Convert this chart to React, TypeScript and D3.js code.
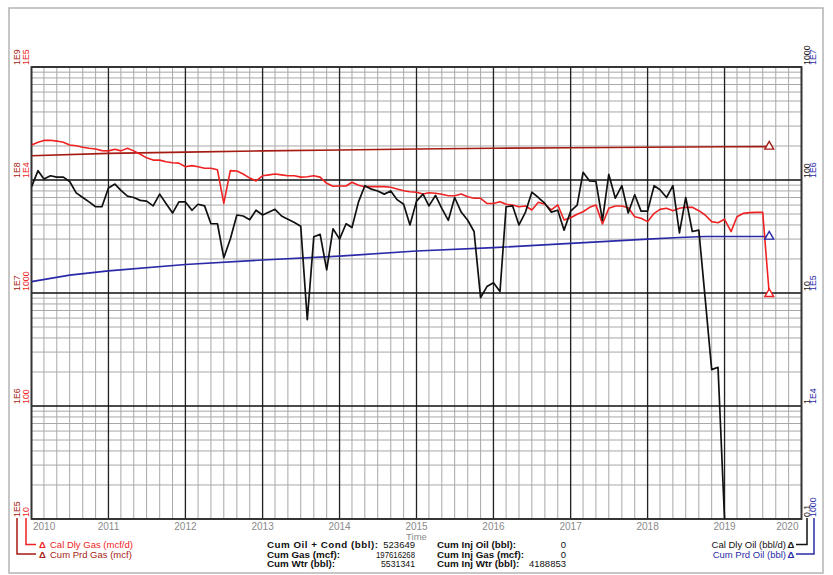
import React from 'react';
import * as d3 from 'd3';

const W = 833;
const H = 575;

// Cal Dly Gas (mcf/d), monthly from Jan 2010
const calDlyGas = [
  20400, 21600, 22400, 22500, 22100, 21600, 20400, 20100, 19500, 19100, 18800, 18200,
  18100, 18700, 18100, 19100, 18100, 16900, 15700, 15000, 15000, 14500, 14200, 14100,
  13100, 13400, 13100, 12700, 12700, 12300, 6200, 12100, 12000, 11300, 10400, 9800,
  10900, 11100, 11300, 11100, 10900, 10900, 10600, 10700, 10900, 10600, 9350, 8800,
  8850, 8850, 9550, 8980, 8730, 8730, 8730, 8730, 8620, 8320, 8040, 7870,
  7780, 7520, 7720, 7630, 7470, 7260, 7260, 7520, 7110, 6890, 6890, 6200,
  6200, 6430, 6100, 6010, 5800, 5890, 5430, 6350, 6100, 5430, 6010, 4430,
  4640, 4970, 5240, 5730, 6010, 4080, 5620, 5890, 5890, 5690, 4730, 4580,
  4280, 5070, 5500, 5620, 5350, 5620, 5730, 5730, 5350, 4900, 4280, 4190,
  4490, 3490, 4730, 5070, 5140, 5170, 5170, 980,
];

// Cal Dly Oil (bbl/d), monthly from Jan 2010
const calDlyOil = [
  87, 121, 102, 109, 106, 106, 97, 77, 70, 64, 58, 58,
  85, 92, 81, 72, 70, 66, 65, 59, 75, 62, 51, 64,
  64, 54, 61, 59, 41, 41, 20.5, 30, 49, 48, 44.5, 54,
  49, 52, 55, 48, 45, 42, 39, 5.8, 31.5, 33, 16, 37,
  30, 41, 38, 64, 89, 83, 80, 75, 80, 67, 61, 40,
  65, 75, 59, 73, 56, 44, 70, 52, 44, 35, 9.1, 11.4,
  12.3, 10.3, 58, 59, 40, 52, 78, 70, 62, 52, 54, 36,
  53, 60, 117, 98, 97, 44, 112, 69, 89, 51, 74, 53,
  53, 89, 82, 70, 89, 34, 70, 35, 36, 9, 2.1, 2.2,
  0.1,
];

// Cumulative series (read at selected dates)
const cumGasDates = ['2010-01', '2011-01', '2012-01', '2013-01', '2014-01', '2015-01', '2016-01', '2017-01', '2018-01', '2019-01', '2019-08'];
const cumPrdGas = [1.64e8, 1.72e8, 1.765e8, 1.81e8, 1.845e8, 1.88e8, 1.91e8, 1.93e8, 1.95e8, 1.97e8, 1.976e8];

const cumOilDates = ['2010-01', '2010-07', '2011-01', '2012-01', '2013-01', '2014-01', '2015-01', '2016-01', '2017-01', '2018-01', '2018-06', '2018-10', '2019-08'];
const cumPrdOil = [1.26e5, 1.44e5, 1.57e5, 1.79e5, 1.96e5, 2.12e5, 2.35e5, 2.52e5, 2.75e5, 3.0e5, 3.1e5, 3.16e5, 3.16e5];

const yearLabels = ['2010', '2011', '2012', '2013', '2014', '2015', '2016', '2017', '2018', '2019', '2020'];
const gasCumTicks = ['1E5', '1E6', '1E7', '1E8', '1E9'];
const gasDlyTicks = ['10', '100', '1000', '1E4', '1E5'];
const oilDlyTicks = ['0.1', '1', '10', '100', '1000'];
const oilCumTicks = ['1000', '1E4', '1E5', '1E6', '1E7'];

const statsLeftLabels = ['Cum Oil + Cond (bbl):', 'Cum Gas (mcf):', 'Cum Wtr (bbl):'];
const statsLeftValues = ['523649', '197616268', '5531341'];
const statsRightLabels = ['Cum Inj Oil (bbl):', 'Cum Inj Gas (mcf):', 'Cum Inj Wtr (bbl):'];
const statsRightValues = ['0', '0', '4188853'];

const FONT = 'Liberation Sans, Arial, sans-serif';
const C_GAS = '#ee2222';
const C_GASCUM = '#a51b12';
const C_OIL = '#111111';
const C_OILCUM = '#2a2aa8';

const L = 31.5, R = 801.5, T = 67, B = 519;

const parseM = d3.timeParse('%Y-%m');
const monthDate = (i: number) => new Date(2010, i, 1);

export default function App() {
  const x = d3.scaleTime().domain([new Date(2010, 0, 1), new Date(2020, 0, 1)]).range([L, R]);
  const yGasD = d3.scaleLog().domain([10, 1e5]).range([B, T]);
  const yGasC = d3.scaleLog().domain([1e5, 1e9]).range([B, T]);
  const yOilD = d3.scaleLog().domain([0.1, 1000]).range([B, T]);
  const yOilC = d3.scaleLog().domain([1000, 1e7]).range([B, T]);

  const lineGasD = d3.line<number>().x((_, i) => x(monthDate(i))).y((v) => yGasD(v));
  const lineOilD = d3.line<number>().x((_, i) => x(monthDate(i))).y((v) => yOilD(v));
  const lineGasC = d3.line<number>().x((_, i) => x(parseM(cumGasDates[i])!)).y((v) => yGasC(v));
  const lineOilC = d3.line<number>().x((_, i) => x(parseM(cumOilDates[i])!)).y((v) => yOilC(v));

  const minorMonths = d3.timeMonth.every(2)!.range(new Date(2010, 0, 1), new Date(2020, 0, 2));
  const years = d3.timeYear.range(new Date(2010, 0, 1), new Date(2020, 0, 2));

  const decades = [0.1, 1, 10, 100, 1000];
  const minors: number[] = [];
  decades.slice(0, 4).forEach((d) => {
    for (let k = 2; k <= 9; k++) minors.push(d * k);
  });

  const tri = d3.symbol().type(d3.symbolTriangle).size(34)()!;
  const lastGasD = calDlyGas.length - 1;
  const lastGasC = cumPrdGas.length - 1;
  const lastOilC = cumPrdOil.length - 1;

  const leftLabelLen = [111, null, null];
  const leftValueLen = [null, 39, 34];

  const rotLabel = (xx: number, yy: number, txt: string, color: string, key: string) => (
    <text key={key} transform={`translate(${xx},${yy}) rotate(-90)`} fill={color} fontSize={8.8} fontFamily={FONT}>
      {txt}
    </text>
  );

  return (
    <svg width={W} height={H} style={{ position: 'absolute', left: 0, top: 0, background: '#fff' }}>
      <defs>
        <clipPath id="plotClip">
          <rect x={L} y={T} width={R - L} height={B - T} />
        </clipPath>
      </defs>
      <rect x={0} y={0} width={W} height={H} fill="#fff" />
      {/* outer frame */}
      <rect x={9} y={8} width={814} height={565} fill="none" stroke="#b4b4b4" strokeWidth={1.5} />

      {/* grid */}
      <g>
        {minorMonths.map((d, i) => (
          <line key={'vm' + i} x1={x(d)} x2={x(d)} y1={T} y2={B} stroke="#a8a8a8" strokeWidth={1} />
        ))}
        {minors.map((v, i) => (
          <line key={'hm' + i} x1={L} x2={R} y1={yOilD(v)} y2={yOilD(v)} stroke="#a8a8a8" strokeWidth={1} />
        ))}
        {years.map((d, i) => (
          <line key={'vy' + i} x1={x(d)} x2={x(d)} y1={T} y2={B} stroke="#222" strokeWidth={1.3} />
        ))}
        {decades.map((v, i) => (
          <line key={'hd' + i} x1={L} x2={R} y1={yOilD(v)} y2={yOilD(v)} stroke="#111" strokeWidth={1.5} />
        ))}
        <rect x={L} y={T} width={R - L} height={B - T} fill="none" stroke="#333" strokeWidth={1.8} />
      </g>

      {/* series */}
      <g clipPath="url(#plotClip)" fill="none" strokeLinejoin="round">
        <path d={lineGasC(cumPrdGas)!} stroke={C_GASCUM} strokeWidth={1.6} />
        <path d={lineOilC(cumPrdOil)!} stroke={C_OILCUM} strokeWidth={1.6} />
        <path d={lineGasD(calDlyGas)!} stroke={C_GAS} strokeWidth={1.6} />
        <path d={lineOilD(calDlyOil)!} stroke={C_OIL} strokeWidth={1.7} />
      </g>

      {/* end markers */}
      <path d={tri} transform={`translate(${x(parseM(cumGasDates[lastGasC])!)},${yGasC(cumPrdGas[lastGasC])})`} fill="#fff" stroke={C_GASCUM} strokeWidth={1.4} />
      <path d={tri} transform={`translate(${x(parseM(cumOilDates[lastOilC])!)},${yOilC(cumPrdOil[lastOilC])})`} fill="#fff" stroke={C_OILCUM} strokeWidth={1.4} />
      <path d={tri} transform={`translate(${x(monthDate(lastGasD))},${yGasD(calDlyGas[lastGasD])})`} fill="#fff" stroke={C_GAS} strokeWidth={1.4} />

      {/* left axis labels */}
      {gasCumTicks.map((t, i) => rotLabel(19.5, yGasC(Math.pow(10, 5 + i)) - 2, t, C_GASCUM, 'gc' + i))}
      {gasDlyTicks.map((t, i) => rotLabel(28.5, yGasD(Math.pow(10, 1 + i)) - 2, t, C_GAS, 'gd' + i))}
      {/* right axis labels */}
      {oilDlyTicks.map((t, i) => rotLabel(809.5, yOilD(Math.pow(10, -1 + i)) - 2, t, C_OIL, 'od' + i))}
      {oilCumTicks.map((t, i) => rotLabel(816, yOilC(Math.pow(10, 3 + i)) - 2, t, C_OILCUM, 'oc' + i))}

      {/* x axis labels */}
      {yearLabels.map((t, i) => {
        const xx = x(new Date(2010 + i, 0, 1));
        const anchor = i === 0 ? 'start' : i === yearLabels.length - 1 ? 'end' : 'middle';
        const px = i === 0 ? xx + 1.5 : i === yearLabels.length - 1 ? xx - 3 : xx;
        return (
          <text key={'yl' + i} x={px} y={530} textAnchor={anchor} fill="#8a8a8a" fontSize={10} fontFamily={FONT}>
            {t}
          </text>
        );
      })}
      <text x={x(new Date(2015, 0, 1))} y={539.5} textAnchor="middle" fill="#8a8a8a" fontSize={9.5} fontFamily={FONT}>
        Time
      </text>

      {/* left legend */}
      <path d="M17,518 V554 H36" fill="none" stroke={C_GASCUM} strokeWidth={1.5} />
      <path d="M26,518 V544.5 H36" fill="none" stroke={C_GAS} strokeWidth={1.5} />
      <text x={39} y={548} fill={C_GAS} fontSize={9.5} fontFamily={FONT}>
        <tspan fontWeight="bold">Δ</tspan>
        <tspan x={50}>Cal Dly Gas (mcf/d)</tspan>
      </text>
      <text x={39} y={557.5} fill={C_GASCUM} fontSize={9.5} fontFamily={FONT}>
        <tspan fontWeight="bold">Δ</tspan>
        <tspan x={50}>Cum Prd Gas (mcf)</tspan>
      </text>

      {/* stats */}
      {statsLeftLabels.map((t, i) => (
        <text key={'sl' + i} x={267} y={548 + i * 9.5} fontSize={9.8} fontWeight="bold" fontFamily={FONT} fill="#111"
          {...(leftLabelLen[i] ? { textLength: leftLabelLen[i]! } : {})}>
          {t}
        </text>
      ))}
      {statsLeftValues.map((t, i) => (
        <text key={'sv' + i} x={415} y={548 + i * 9.5} fontSize={9.5} textAnchor="end" fontFamily={FONT} fill="#111"
          {...(leftValueLen[i] ? { textLength: leftValueLen[i]!, lengthAdjust: 'spacingAndGlyphs' } : {})}>
          {t}
        </text>
      ))}
      {statsRightLabels.map((t, i) => (
        <text key={'sr' + i} x={437} y={548 + i * 9.5} fontSize={9.8} fontWeight="bold" fontFamily={FONT} fill="#111">
          {t}
        </text>
      ))}
      {statsRightValues.map((t, i) => (
        <text key={'srv' + i} x={566} y={548 + i * 9.5} fontSize={9.5} textAnchor="end" fontFamily={FONT} fill="#111">
          {t}
        </text>
      ))}

      {/* right legend */}
      <path d="M796,544.5 H807 V518" fill="none" stroke={C_OIL} strokeWidth={1.5} />
      <path d="M796,554 H814 V518" fill="none" stroke={C_OILCUM} strokeWidth={1.5} />
      <text x={786} y={548} textAnchor="end" fill={C_OIL} fontSize={9.5} fontFamily={FONT}>
        Cal Dly Oil (bbl/d)
      </text>
      <text x={787.5} y={548} fill={C_OIL} fontSize={9.5} fontWeight="bold" fontFamily={FONT}>
        Δ
      </text>
      <text x={786} y={557.5} textAnchor="end" fill={C_OILCUM} fontSize={9.5} fontFamily={FONT}>
        Cum Prd Oil (bbl)
      </text>
      <text x={787.5} y={557.5} fill={C_OILCUM} fontSize={9.5} fontWeight="bold" fontFamily={FONT}>
        Δ
      </text>
    </svg>
  );
}
